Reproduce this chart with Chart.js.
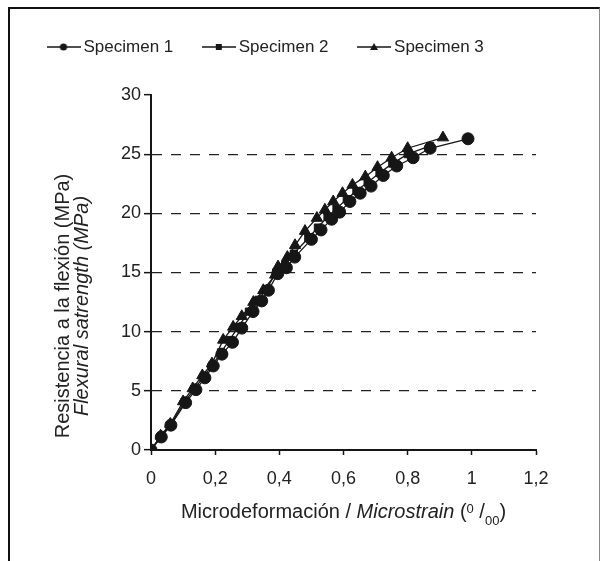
<!DOCTYPE html>
<html>
<head>
<meta charset="utf-8">
<script src="https://cdn.jsdelivr.net/npm/chart.js@4/dist/chart.umd.min.js"></script>
<style>
  html, body { margin: 0; padding: 0; background: #fff; overflow: hidden; }
  #wrap { position: relative; width: 601px; height: 561px; }
  #frame {
    position: absolute; left: 8px; top: 7px; width: 589px; height: 600px;
    border-left: 2px solid #111; border-top: 2px solid #111; border-right: 1px solid #888;
  }
  canvas { position: absolute; left: 0; top: 0; }
</style>
</head>
<body>
<div id="wrap">
  <canvas id="chart" width="601" height="561"></canvas>
  <div id="frame"></div>
</div>
<script>
// ─── Data ────────────────────────────────────────────────────────────────────
const SPECIMEN_NAMES = ['Specimen 1', 'Specimen 2', 'Specimen 3'];

const S1_STRAIN = [0, 0.032, 0.062, 0.108, 0.14, 0.168, 0.194, 0.221, 0.254, 0.283, 0.318, 0.345, 0.366, 0.395, 0.422, 0.448, 0.5, 0.53, 0.563, 0.588, 0.62, 0.652, 0.686, 0.724, 0.766, 0.817, 0.87, 0.988];
const S1_STRESS = [0, 1.1, 2.1, 4.0, 5.1, 6.1, 7.1, 8.1, 9.1, 10.3, 11.7, 12.6, 13.5, 14.9, 15.4, 16.3, 17.8, 18.6, 19.5, 20.1, 21.0, 21.7, 22.3, 23.2, 24.0, 24.7, 25.5, 26.3];

const S2_STRAIN = [0, 0.031, 0.061, 0.104, 0.135, 0.164, 0.192, 0.218, 0.245, 0.272, 0.305, 0.335, 0.36, 0.39, 0.418, 0.445, 0.49, 0.52, 0.55, 0.578, 0.61, 0.64, 0.675, 0.712, 0.752, 0.8, 0.87];
const S2_STRESS = [0, 1.15, 2.15, 4.05, 5.15, 6.2, 7.2, 8.25, 9.3, 10.4, 11.7, 12.7, 13.6, 15.0, 15.7, 16.6, 17.9, 18.8, 19.7, 20.4, 21.2, 21.9, 22.6, 23.4, 24.2, 25.0, 25.7];

const S3_STRAIN = [0, 0.03, 0.06, 0.1, 0.13, 0.16, 0.19, 0.225, 0.256, 0.283, 0.319, 0.35, 0.387, 0.396, 0.425, 0.449, 0.48, 0.517, 0.542, 0.568, 0.597, 0.628, 0.668, 0.706, 0.75, 0.8, 0.91];
const S3_STRESS = [0, 1.2, 2.2, 4.1, 5.2, 6.3, 7.3, 9.3, 10.4, 11.3, 12.5, 13.5, 14.8, 15.5, 16.3, 17.3, 18.5, 19.6, 20.3, 21.0, 21.7, 22.4, 23.1, 23.9, 24.7, 25.5, 26.4];

const X_MIN = 0, X_MAX = 1.2, X_STEP = 0.2;
const Y_MIN = 0, Y_MAX = 30, Y_STEP = 5;

const INK = '#161616';
const TEXT = '#222';
const FONT = '"Liberation Sans", Arial, sans-serif';

// ─── Helpers ─────────────────────────────────────────────────────────────────
function toPoints(xs, ys) {
  return xs.map((x, i) => ({ x, y: ys[i] }));
}

// little "line + marker" swatch used as the legend point style
function legendSwatch(kind) {
  const c = document.createElement('canvas');
  c.width = 34; c.height = 12;
  const g = c.getContext('2d');
  g.strokeStyle = INK; g.fillStyle = INK; g.lineWidth = 1.3;
  g.beginPath(); g.moveTo(0, 6); g.lineTo(34, 6); g.stroke();
  g.beginPath();
  if (kind === 'circle') g.arc(17, 6, 3.6, 0, Math.PI * 2);
  else if (kind === 'rect') g.rect(14, 3, 6, 6);
  else { g.moveTo(17, 2); g.lineTo(21, 9); g.lineTo(13, 9); g.closePath(); }
  g.fill();
  return c;
}

const SWATCHES = [legendSwatch('circle'), legendSwatch('rect'), legendSwatch('triangle')];

function series(label, xs, ys, style, radius) {
  return {
    label,
    data: toPoints(xs, ys),
    showLine: true,
    borderColor: INK,
    borderWidth: 1.3,
    backgroundColor: INK,
    pointStyle: style,
    pointRadius: radius,
    pointBackgroundColor: INK,
    pointBorderColor: INK,
    pointBorderWidth: 1,
    tension: 0,
  };
}

// axis titles mix roman, italic and super/subscript, so they are drawn here
const axisTitles = {
  id: 'axisTitles',
  afterDraw(chart) {
    const { ctx, chartArea } = chart;
    ctx.save();
    ctx.fillStyle = TEXT;
    ctx.textBaseline = 'alphabetic';

    const segs = [
      { t: 'Microdeformación / ', f: `20px ${FONT}`, dy: 0 },
      { t: 'Microstrain', f: `italic 20px ${FONT}`, dy: 0 },
      { t: ' (', f: `20px ${FONT}`, dy: 0 },
      { t: '0', f: `13px ${FONT}`, dy: -5 },
      { t: ' /', f: `20px ${FONT}`, dy: 0 },
      { t: '00', f: `13px ${FONT}`, dy: 7 },
      { t: ')', f: `20px ${FONT}`, dy: 0 },
    ];
    let total = 0;
    for (const s of segs) { ctx.font = s.f; s.w = ctx.measureText(s.t).width; total += s.w; }
    let x = (chartArea.left + chartArea.right) / 2 - total / 2;
    const base = chartArea.bottom + 68;
    ctx.textAlign = 'left';
    for (const s of segs) { ctx.font = s.f; ctx.fillText(s.t, x, base + s.dy); x += s.w; }

    const cy = chartArea.bottom - 144;
    ctx.textAlign = 'center';
    ctx.save();
    ctx.translate(69, cy); ctx.rotate(-Math.PI / 2);
    ctx.font = `20px ${FONT}`;
    ctx.fillText('Resistencia a la flexión (MPa)', 0, 0);
    ctx.restore();
    ctx.save();
    ctx.translate(88, cy); ctx.rotate(-Math.PI / 2);
    ctx.font = `italic 20px ${FONT}`;
    ctx.fillText('Flexural satrength (MPa)', 0, 0);
    ctx.restore();

    ctx.restore();
  },
};

// ─── Chart ───────────────────────────────────────────────────────────────────
new Chart(document.getElementById('chart'), {
  type: 'scatter',
  data: {
    datasets: [
      series(SPECIMEN_NAMES[0], S1_STRAIN, S1_STRESS, 'circle', 6),
      series(SPECIMEN_NAMES[1], S2_STRAIN, S2_STRESS, 'rect', 5),
      series(SPECIMEN_NAMES[2], S3_STRAIN, S3_STRESS, 'triangle', 6.5),
    ],
  },
  options: {
    responsive: false,
    animation: false,
    devicePixelRatio: 1,
    layout: { padding: { left: 18, right: 65, top: 4.5, bottom: 0 } },
    plugins: {
      tooltip: { enabled: false },
      // empty title used only as a spacer between the legend and the plot
      title: { display: true, text: '', weight: 500, padding: { top: 10, bottom: 9.5 }, font: { size: 10, lineHeight: 1 } },
      legend: {
        position: 'top',
        align: 'start',
        labels: {
          usePointStyle: true,
          pointStyleWidth: 23,
          padding: 34,
          color: TEXT,
          font: { family: FONT, size: 17 },
          generateLabels(chart) {
            return Chart.defaults.plugins.legend.labels.generateLabels(chart)
              .map((item, i) => ({ ...item, pointStyle: SWATCHES[i], fontColor: TEXT }));
          },
        },
      },
    },
    scales: {
      x: {
        type: 'linear',
        min: X_MIN,
        max: X_MAX,
        afterFit(scale) { scale.height = 111; },
        border: { display: true, color: INK, width: 2 },
        grid: { drawOnChartArea: false, drawTicks: true, tickLength: 5, tickColor: INK, tickWidth: 1.5 },
        ticks: {
          stepSize: X_STEP,
          color: TEXT,
          padding: 13,
          maxRotation: 0,
          font: { family: FONT, size: 18 },
          callback: v => String(Number(v.toFixed(1))).replace('.', ','),
        },
      },
      y: {
        type: 'linear',
        min: Y_MIN,
        max: Y_MAX,
        afterFit(scale) { scale.width = 133; },
        border: { display: true, color: INK, width: 2, dash: [10, 9] },
        grid: {
          color: ctx => (ctx.tick && (ctx.tick.value === Y_MIN || ctx.tick.value === Y_MAX)) ? 'rgba(0,0,0,0)' : '#222',
          lineWidth: 1.3,
          drawTicks: true,
          tickLength: 7,
          tickColor: INK,
          tickWidth: 1.5,
        },
        ticks: {
          stepSize: Y_STEP,
          color: TEXT,
          padding: 3,
          font: { family: FONT, size: 18 },
        },
      },
    },
  },
  plugins: [axisTitles],
});
</script>
</body>
</html>
